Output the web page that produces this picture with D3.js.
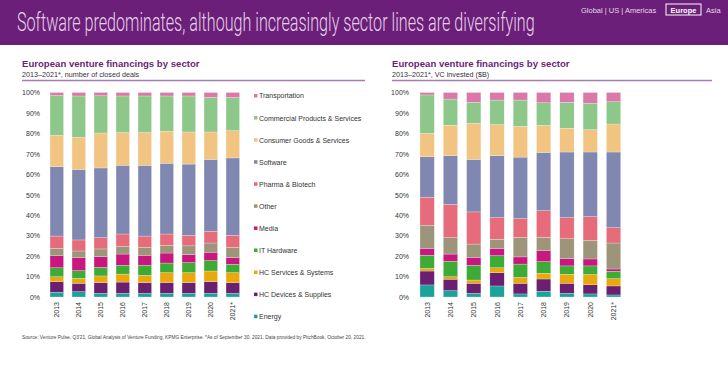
<!DOCTYPE html>
<html><head><meta charset="utf-8">
<script src="https://cdn.jsdelivr.net/npm/d3@7"></script>
<style>body{margin:0;background:#fff;}svg{display:block;font-family:"Liberation Sans",Arial,sans-serif;}</style>
</head><body>
<svg id="c" width="728" height="370"></svg>
<script>
const years = ["2013","2014","2015","2016","2017","2018","2019","2020","2021*"];
const sectors = ["Energy","HC Devices & Supplies","HC Services & Systems","IT Hardware","Media","Other","Pharma & Biotech","Software","Consumer Goods & Services","Commercial Products & Services","Transportation"];
const colors = ["#19a39b","#6b1f71","#eaa80a","#3eab36","#c8177f","#9c957a","#e76c7b","#8088b2","#f1c482","#8dc78a","#d978a9"];
const yTicks = [0,10,20,30,40,50,60,70,80,90,100];

// Share of closed deals (%), per sector, 2013..2021*
const dealsEnergy     = [2.3,2.6,1.8,1.8,1.8,1.8,1.8,1.8,1.8];
const dealsHCDevices  = [5.2,4.1,5.2,5.5,5.2,5.3,5.2,5.7,5.2];
const dealsHCServices = [2.4,2.4,3.3,3.9,3.6,4.8,4.9,5.2,4.9];
const dealsITHardware = [4.4,3.8,4.2,4.3,4.9,4.7,4.9,5.1,4.1];
const dealsMedia      = [5.9,6.3,5.2,5.5,4.9,4.9,3.9,4.1,3.2];
const dealsOther      = [3.6,3.3,3.8,3.8,3.9,3.8,4.3,4.5,5.1];
const dealsPharma     = [6.0,5.4,5.5,6.0,5.5,5.5,5.2,5.7,5.9];
const dealsSoftware   = [33.9,34.5,34.1,33.6,34.6,34.6,34.8,35.2,37.8];
const dealsConsumer   = [15.3,15.7,17.1,16.0,16.0,15.6,15.7,13.4,13.3];
const dealsCommercial = [19.5,20.2,18.2,17.9,17.9,17.3,17.6,16.9,16.3];
const dealsTransport  = [1.5,1.7,1.6,1.7,1.7,1.7,1.7,2.4,2.4];

// Share of VC invested (%), per sector, 2013..2021*
const vcEnergy     = [5.9,3.1,1.8,5.4,1.5,2.8,1.8,1.5,1.0];
const vcHCDevices  = [6.8,5.6,4.9,6.5,5.2,6.0,4.9,4.5,4.4];
const vcHCServices = [1.3,1.2,1.6,2.4,2.9,2.8,4.4,5.0,3.6];
const vcITHardware = [6.4,7.6,7.2,5.9,6.5,5.7,4.1,4.2,3.6];
const vcMedia      = [3.4,3.5,3.9,3.6,3.5,5.3,3.5,3.4,1.1];
const vcOther      = [11.3,8.0,6.5,4.4,9.6,6.6,9.8,9.1,12.7];
const vcPharma     = [13.7,16.3,15.7,10.6,9.1,13.0,10.3,11.6,7.5];
const vcSoftware   = [19.8,23.8,25.7,30.3,30.1,28.5,32.1,31.6,37.0];
const vcConsumer   = [11.4,14.9,17.6,15.2,15.1,13.2,11.6,10.9,13.7];
const vcCommercial = [18.8,12.8,10.3,12.0,12.8,11.1,12.7,12.9,10.9];
const vcTransport  = [1.2,3.2,4.8,3.7,3.7,5.0,4.8,5.3,4.5];

const dealsSeries = [dealsEnergy,dealsHCDevices,dealsHCServices,dealsITHardware,dealsMedia,dealsOther,dealsPharma,dealsSoftware,dealsConsumer,dealsCommercial,dealsTransport];
const vcSeries = [vcEnergy,vcHCDevices,vcHCServices,vcITHardware,vcMedia,vcOther,vcPharma,vcSoftware,vcConsumer,vcCommercial,vcTransport];

const svg = d3.select("#c");
const purple = "#6b1f78";

// Header
svg.append("rect").attr("x",0).attr("y",0).attr("width",728).attr("height",45).attr("fill",purple);
const title = svg.append("text").attr("x",0).attr("y",0).attr("fill","#e4d2ea")
  .attr("font-family","Roboto, 'Liberation Sans Narrow', sans-serif").attr("font-weight",300)
  .attr("font-size",26)
  .text("Software predominates, although increasingly sector lines are diversifying");
const natW = title.node().getComputedTextLength();
title.attr("transform",`translate(17,31) scale(${518/natW},1)`);

svg.append("text").attr("x",581).attr("y",13).attr("font-size",7.5).attr("fill","#e6d6ec").text("Global  |  US  |  Americas");
svg.append("rect").attr("x",666).attr("y",4).attr("width",35).attr("height",11).attr("fill","none").attr("stroke","#fff").attr("stroke-width",1);
svg.append("text").attr("x",683.5).attr("y",13).attr("text-anchor","middle").attr("font-size",7.5).attr("font-weight","bold").attr("fill","#fff").text("Europe");
svg.append("text").attr("x",706).attr("y",13).attr("font-size",7.5).attr("fill","#e6d6ec").text("Asia");

const y = d3.scaleLinear().domain([0,100]).range([297,92.5]);

function panel(titleX, lineEnd, subtitle, series, rangeX, labelX) {
  svg.append("text").attr("x",titleX).attr("y",67).attr("font-size",9.6).attr("font-weight","bold").attr("fill","#6b1f78")
    .text("European venture financings by sector");
  svg.append("text").attr("x",titleX).attr("y",76.5).attr("font-size",7.2).attr("fill","#333").text(subtitle);
  svg.append("line").attr("x1",titleX).attr("x2",lineEnd).attr("y1",80.5).attr("y2",80.5).attr("stroke","#a77bb4").attr("stroke-width",1.4);

  const x = d3.scaleBand().domain(years).range(rangeX).paddingInner(0.385).paddingOuter(0.1925);
  const rows = years.map((yr,i)=>{ const o={year:yr}; sectors.forEach((s,k)=>o[s]=series[k][i]); return o; });
  const stack = d3.stack().keys(sectors)(rows);
  const g = svg.append("g");
  g.selectAll("g").data(stack).join("g").attr("fill",(d,i)=>colors[i])
    .selectAll("rect").data(d=>d).join("rect")
    .attr("x",d=>x(d.data.year)).attr("width",x.bandwidth())
    .attr("y",d=>y(d[1])).attr("height",d=>y(d[0])-y(d[1]))
    .attr("stroke","#fff").attr("stroke-width",0.4).attr("stroke-opacity",0.6);

  const ya = svg.append("g").attr("transform",`translate(${labelX},0)`)
    .call(d3.axisLeft(y).tickValues(yTicks).tickFormat(d=>d+"%").tickSize(0).tickPadding(0));
  ya.select(".domain").remove();
  ya.selectAll("text").attr("font-size",7).attr("fill","#333").attr("font-family","'Liberation Sans',Arial,sans-serif");

  const xa = svg.append("g").attr("transform","translate(0,301)")
    .call(d3.axisBottom(x).tickSize(0).tickPadding(0));
  xa.select(".domain").remove();
  xa.selectAll("text").attr("font-size",7).attr("fill","#333").attr("font-family","'Liberation Sans',Arial,sans-serif")
    .attr("transform","rotate(-90)").attr("text-anchor","end").attr("dy","0.35em").attr("x",-1).attr("y",0);
}

panel(22, 365, "2013\u20132021*, number of closed deals", dealsSeries, [45.8,243.8], 40);
panel(392, 712, "2013\u20132021*, VC invested ($B)", vcSeries, [415.5,625.2], 409);

// Legend
const legendOrder = sectors.map((s,i)=>({s,c:colors[i]})).reverse();
const lg = svg.append("g").selectAll("g").data(legendOrder).join("g")
  .attr("transform",(d,i)=>`translate(254,${96+i*22.07})`);
lg.append("rect").attr("x",0).attr("y",-2).attr("width",3.5).attr("height",3.5).attr("fill",d=>d.c);
lg.append("text").attr("x",5).attr("y",0).attr("dy","0.35em").attr("font-size",7).attr("fill","#333").text(d=>d.s);

svg.append("text").attr("x",22).attr("y",339).attr("font-size",4.8).attr("fill","#444")
  .text("Source: Venture Pulse, Q3'21, Global Analysis of Venture Funding, KPMG Enterprise. *As of September 30, 2021. Data provided by PitchBook, October 20, 2021.");
</script>
</body></html>
